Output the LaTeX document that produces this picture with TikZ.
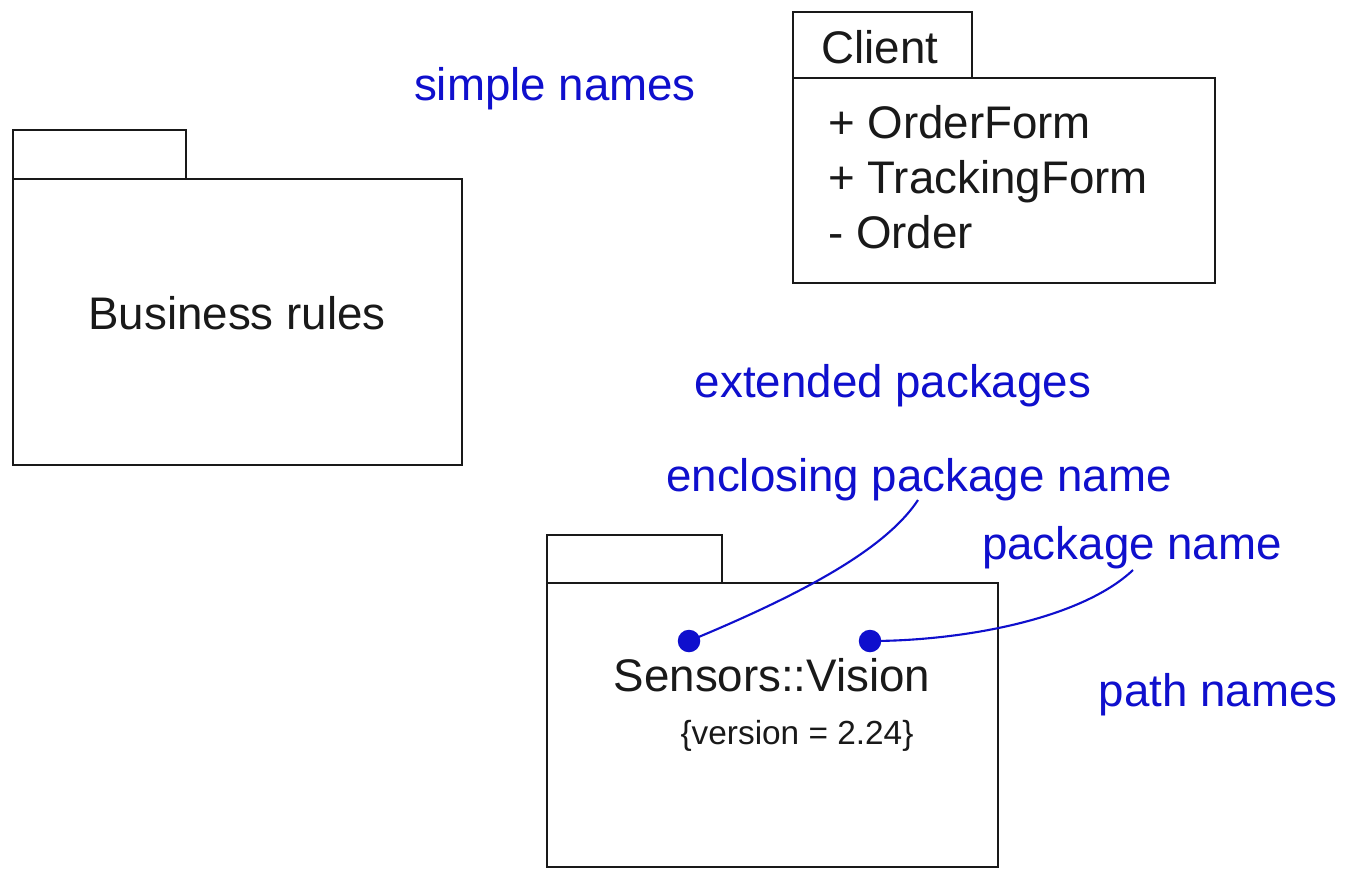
\documentclass[tikz,border=0pt]{standalone}
\usepackage{fontspec}
\setmainfont{Liberation Sans}
\definecolor{noteblue}{RGB}{15,15,205}
\definecolor{inkgray}{RGB}{25,25,25}
\begin{document}
\begin{tikzpicture}[x=0.02cm,y=-0.02cm,
  pkgline/.style={draw=inkgray,line width=1.4pt,fill=white},
  bigtext/.style={inner sep=0pt,anchor=base,text=inkgray,font=\fontsize{26}{31}\selectfont},
  listtext/.style={inner sep=0pt,anchor=base west,text=inkgray,font=\fontsize{26}{31}\selectfont},
  smalltext/.style={inner sep=0pt,anchor=base,text=inkgray,font=\fontsize{19}{23}\selectfont},
  notetext/.style={inner sep=0pt,anchor=base,text=noteblue,font=\fontsize{26}{31}\selectfont},
  dotmark/.style={circle,fill=noteblue,inner sep=0pt,minimum size=0.45cm},
  leader/.style={draw=noteblue,line width=1.2pt}]
\useasboundingbox (0,0) rectangle (1354,873);
\fill[white] (0,0) rectangle (1354,873);

% Business rules package
\draw[pkgline] (13,130) rectangle (186,179);
\draw[pkgline] (13,179) rectangle (462,465);
\node[bigtext] (br) at (237,329) {Business rules};

% Client package
\draw[pkgline] (793,12) rectangle (972,78);
\draw[pkgline] (793,78) rectangle (1215,283);
\node[listtext] (client) at (821,63) {Client};
\node[listtext] (of) at (828,138) {+ OrderForm};
\node[listtext] (tf) at (828,193) {+ TrackingForm};
\node[listtext] (ord) at (828,248) {- Order};

% Sensors::Vision package
\draw[pkgline] (547,535) rectangle (722,583);
\draw[pkgline] (547,583) rectangle (998,867);
\node[bigtext] (sv) at (772,691) {Sensors::Vision};
\node[smalltext] (ver) at (797,744) {\{version = 2.24\}};

% notes
\node[notetext] (simple) at (555,100) {simple names};
\node[notetext] (ext) at (893,397) {extended packages};
\node[notetext] (encl) at (919,491) {enclosing package name};
\node[notetext] (pname) at (1132,559) {package name};
\node[notetext] (path) at (1218,706) {path names};

% dots and leaders
\node[dotmark] (d1) at (689,641) {};
\node[dotmark] (d2) at (870,641) {};
\coordinate (e1) at (918,500);
\coordinate (e2) at (1133,570);
\draw[leader] (d1.center) .. controls (800,595) and (885,550) .. (e1);
\draw[leader] (d2.center) .. controls (960,641) and (1080,620) .. (e2);
\end{tikzpicture}
\end{document}
